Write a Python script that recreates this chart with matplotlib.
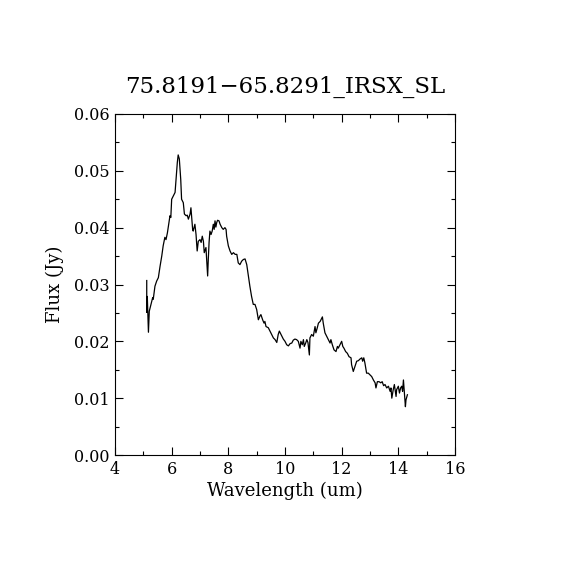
import matplotlib
matplotlib.use("Agg")
import matplotlib.pyplot as plt
from matplotlib.ticker import MultipleLocator

plt.rcParams['font.family'] = ['DejaVu Serif']
plt.rcParams['mathtext.fontset'] = 'dejavuserif'

# spectrum
wave = [5.12, 5.12, 5.14, 5.18, 5.21, 5.30, 5.33, 5.35, 5.41, 5.47,
        5.53, 5.59, 5.65, 5.70, 5.76, 5.80, 5.85, 5.94, 5.97, 6.00,
        6.06, 6.12, 6.15, 6.20, 6.23, 6.27, 6.32, 6.35, 6.41, 6.45,
        6.51, 6.55, 6.59, 6.65, 6.68, 6.71, 6.74, 6.76, 6.82, 6.86,
        6.90, 6.94, 7.00, 7.04, 7.08, 7.12, 7.15, 7.19, 7.21, 7.24,
        7.27, 7.29, 7.32, 7.35, 7.39, 7.43, 7.47, 7.50, 7.53, 7.56,
        7.59, 7.62, 7.67, 7.71, 7.77, 7.82, 7.88, 7.92, 7.94, 8.00,
        8.06, 8.12, 8.18, 8.24, 8.30, 8.35, 8.41, 8.47, 8.53, 8.59,
        8.65, 8.70, 8.76, 8.82, 8.88, 8.94, 9.00, 9.06, 9.12, 9.15,
        9.21, 9.26, 9.29, 9.33, 9.41, 9.47, 9.53, 9.59, 9.65, 9.71,
        9.76, 9.80, 9.86, 9.94, 10.00, 10.06, 10.12, 10.18, 10.24, 10.29,
        10.35, 10.41, 10.47, 10.53, 10.56, 10.61, 10.65, 10.68, 10.73, 10.77,
        10.81, 10.86, 10.88, 10.94, 11.00, 11.06, 11.09, 11.14, 11.18, 11.24,
        11.27, 11.32, 11.35, 11.38, 11.41, 11.47, 11.53, 11.59, 11.62, 11.67,
        11.73, 11.80, 11.85, 11.88, 11.94, 12.00, 12.04, 12.08, 12.14, 12.20,
        12.26, 12.33, 12.35, 12.41, 12.47, 12.53, 12.59, 12.65, 12.71, 12.74,
        12.78, 12.82, 12.88, 12.94, 13.00, 13.06, 13.12, 13.18, 13.21, 13.26,
        13.32, 13.38, 13.43, 13.48, 13.53, 13.59, 13.65, 13.71, 13.74, 13.77,
        13.82, 13.86, 13.92, 13.94, 14.00, 14.04, 14.08, 14.12, 14.15, 14.18,
        14.21, 14.25, 14.27, 14.32]
flux = [0.0307, 0.0251, 0.0279, 0.0216, 0.0253, 0.0271, 0.0277, 0.0274, 0.0297, 0.0306,
        0.0312, 0.0332, 0.0350, 0.0368, 0.0383, 0.0379, 0.0391, 0.0421, 0.0418, 0.0450,
        0.0456, 0.0462, 0.0482, 0.0515, 0.0528, 0.0521, 0.0485, 0.0450, 0.0444, 0.0424,
        0.0421, 0.0422, 0.0415, 0.0424, 0.0435, 0.0415, 0.0397, 0.0394, 0.0406, 0.0388,
        0.0359, 0.0376, 0.0379, 0.0374, 0.0385, 0.0376, 0.0356, 0.0362, 0.0365, 0.0341,
        0.0315, 0.0341, 0.0374, 0.0394, 0.0388, 0.0394, 0.0406, 0.0397, 0.0412, 0.0401,
        0.0409, 0.0413, 0.0412, 0.0406, 0.0400, 0.0397, 0.0400, 0.0397, 0.0385, 0.0368,
        0.0359, 0.0353, 0.0356, 0.0353, 0.0353, 0.0338, 0.0335, 0.0341, 0.0344, 0.0345,
        0.0335, 0.0318, 0.0297, 0.0279, 0.0265, 0.0265, 0.0256, 0.0238, 0.0245, 0.0247,
        0.0238, 0.0232, 0.0235, 0.0226, 0.0224, 0.0218, 0.0212, 0.0206, 0.0203, 0.0198,
        0.0212, 0.0218, 0.0212, 0.0204, 0.0200, 0.0194, 0.0192, 0.0196, 0.0197, 0.0202,
        0.0204, 0.0203, 0.0200, 0.0188, 0.0200, 0.0194, 0.0203, 0.0191, 0.0197, 0.0203,
        0.0198, 0.0176, 0.0206, 0.0212, 0.0209, 0.0226, 0.0215, 0.0224, 0.0232, 0.0235,
        0.0238, 0.0243, 0.0232, 0.0224, 0.0215, 0.0209, 0.0203, 0.0197, 0.0203, 0.0194,
        0.0185, 0.0182, 0.0191, 0.0188, 0.0194, 0.0200, 0.0191, 0.0188, 0.0182, 0.0179,
        0.0173, 0.0171, 0.0159, 0.0147, 0.0156, 0.0165, 0.0166, 0.0169, 0.0171, 0.0165,
        0.0171, 0.0162, 0.0144, 0.0144, 0.0141, 0.0138, 0.0132, 0.0127, 0.0118, 0.0129,
        0.0129, 0.0127, 0.0129, 0.0122, 0.0124, 0.0118, 0.0121, 0.0112, 0.0118, 0.0100,
        0.0115, 0.0124, 0.0103, 0.0115, 0.0121, 0.0109, 0.0118, 0.0121, 0.0112, 0.0132,
        0.0112, 0.0085, 0.0097, 0.0106]

title = "75.8191\u221265.8291_IRSX_SL"

fig = plt.figure(figsize=(5.7, 5.7), dpi=100)
# axes box: 115..455 px in x, 114..455 px in y
ax = fig.add_axes([115/570, 1 - 455/570, 340/570, 341/570])
ax.plot(wave, flux, color='black', lw=0.9)

ax.set_xlim(4, 16)
ax.set_ylim(0, 0.06)
ax.xaxis.set_major_locator(MultipleLocator(2))
ax.xaxis.set_minor_locator(MultipleLocator(1))
ax.yaxis.set_major_locator(MultipleLocator(0.01))
ax.yaxis.set_minor_locator(MultipleLocator(0.005))
ax.yaxis.set_major_formatter(matplotlib.ticker.FormatStrFormatter('%.2f'))
ax.tick_params(which='both', direction='in', top=True, right=True,
               labelsize=11.5, width=0.8)
ax.tick_params(which='major', length=6, pad=4)
ax.tick_params(which='minor', length=3)
for s in ax.spines.values():
    s.set_linewidth(0.8)

ax.set_xlabel('Wavelength (um)', fontsize=13, labelpad=3)
ax.set_ylabel('Flux (Jy)', fontsize=13, labelpad=7)
ax.set_title(title, fontsize=16.5, pad=15)

fig.savefig('out.png', dpi=100)
